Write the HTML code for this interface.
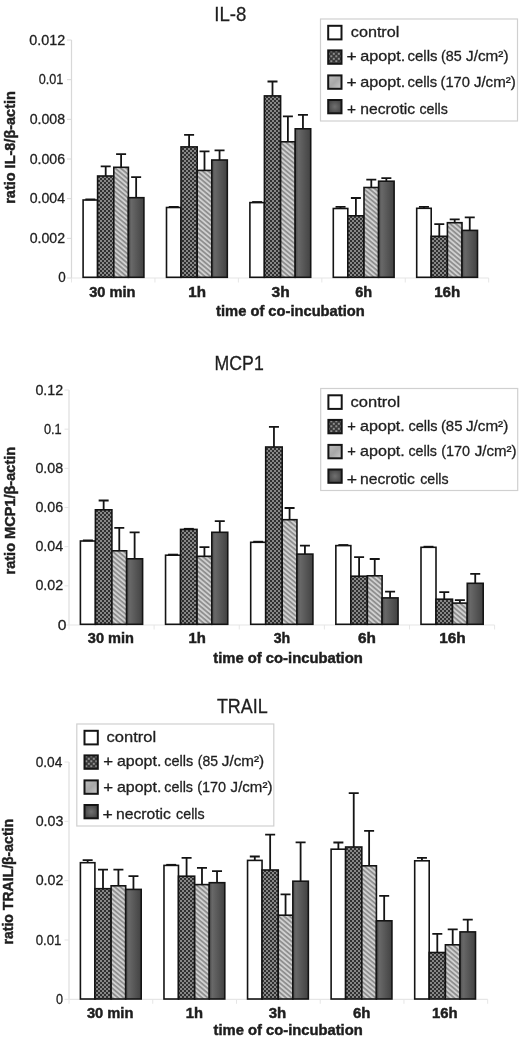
<!DOCTYPE html><html><head><meta charset="utf-8"><style>
html,body{margin:0;padding:0;background:#fff;width:520px;height:1038px;overflow:hidden;}
svg{display:block;position:absolute;left:0;top:0;filter:grayscale(1);}
text{font-family:"Liberation Sans",sans-serif;fill:#1e1e1e;stroke:#1e1e1e;stroke-width:0.3px;paint-order:stroke;}
text[font-weight=bold]{stroke-width:0.45px;}
</style></head><body>
<svg width="520" height="1038" viewBox="0 0 520 1038">
<defs>
<pattern id="chk" patternUnits="userSpaceOnUse" width="4" height="4">
<rect width="4" height="4" fill="#303030"/>
<rect x="0.15" y="0.15" width="1.7" height="1.7" fill="#a8a8a8"/>
<rect x="2.15" y="2.15" width="1.7" height="1.7" fill="#a8a8a8"/>
</pattern>
<pattern id="stp" patternUnits="userSpaceOnUse" width="3.6" height="3.6" patternTransform="rotate(40)">
<rect width="3.6" height="3.6" fill="#d0d0d0"/>
<rect width="3.6" height="1.7" fill="#8c8c8c"/>
</pattern>
<linearGradient id="drk" x1="0" y1="0" x2="1" y2="0">
<stop offset="0" stop-color="#4e4e4e"/><stop offset="0.2" stop-color="#686868"/><stop offset="1" stop-color="#424242"/>
</linearGradient>
<pattern id="lchk" patternUnits="userSpaceOnUse" width="5" height="5">
<rect width="5" height="5" fill="#383838"/>
<rect x="0.3" y="0.3" width="2" height="2" fill="#8e8e8e"/>
<rect x="2.8" y="2.8" width="2" height="2" fill="#8e8e8e"/>
</pattern>
<linearGradient id="lstp" x1="0" y1="0" x2="1" y2="1">
<stop offset="0" stop-color="#bdbdbd"/><stop offset="0.5" stop-color="#a8a8a8"/><stop offset="1" stop-color="#c8c8c8"/>
</linearGradient>
<radialGradient id="ldrk"><stop offset="0" stop-color="#707070"/><stop offset="1" stop-color="#4a4a4a"/></radialGradient>
</defs>
<line x1="71.5" y1="40" x2="71.5" y2="278" stroke="#d8d8d8" stroke-width="1.2"/>
<line x1="67" y1="278" x2="71.5" y2="278" stroke="#d8d8d8" stroke-width="1"/>
<line x1="67" y1="238.33" x2="71.5" y2="238.33" stroke="#d8d8d8" stroke-width="1"/>
<line x1="67" y1="198.67" x2="71.5" y2="198.67" stroke="#d8d8d8" stroke-width="1"/>
<line x1="67" y1="159" x2="71.5" y2="159" stroke="#d8d8d8" stroke-width="1"/>
<line x1="67" y1="119.33" x2="71.5" y2="119.33" stroke="#d8d8d8" stroke-width="1"/>
<line x1="67" y1="79.67" x2="71.5" y2="79.67" stroke="#d8d8d8" stroke-width="1"/>
<line x1="67" y1="40" x2="71.5" y2="40" stroke="#d8d8d8" stroke-width="1"/>
<line x1="71.5" y1="278" x2="488.7" y2="278" stroke="#e6e6e6" stroke-width="1.2"/>
<line x1="71.5" y1="278" x2="71.5" y2="282.5" stroke="#e6e6e6" stroke-width="1"/>
<line x1="154.94" y1="278" x2="154.94" y2="282.5" stroke="#e6e6e6" stroke-width="1"/>
<line x1="238.38" y1="278" x2="238.38" y2="282.5" stroke="#e6e6e6" stroke-width="1"/>
<line x1="321.82" y1="278" x2="321.82" y2="282.5" stroke="#e6e6e6" stroke-width="1"/>
<line x1="405.26" y1="278" x2="405.26" y2="282.5" stroke="#e6e6e6" stroke-width="1"/>
<line x1="488.7" y1="278" x2="488.7" y2="282.5" stroke="#e6e6e6" stroke-width="1"/>
<rect x="83.1" y="200" width="14.5" height="77.3" fill="#ffffff" stroke="#141414" stroke-width="1.6"/>
<rect x="97.6" y="176" width="16.2" height="101.3" fill="url(#chk)" stroke="#141414" stroke-width="1.6"/>
<rect x="113.8" y="167.3" width="14.6" height="110" fill="url(#stp)" stroke="#141414" stroke-width="1.6"/>
<rect x="128.4" y="197.7" width="15.5" height="79.6" fill="url(#drk)" stroke="#141414" stroke-width="1.6"/>
<line x1="85.35" y1="199.4" x2="95.35" y2="199.4" stroke="#141414" stroke-width="1.8"/>
<path d="M105.7 176V166.3M100.7 166.3H110.7" stroke="#141414" stroke-width="1.8" fill="none"/>
<path d="M121.1 167.3V154.2M116.1 154.2H126.1" stroke="#141414" stroke-width="1.8" fill="none"/>
<path d="M136.15 197.7V177.2M131.15 177.2H141.15" stroke="#141414" stroke-width="1.8" fill="none"/>
<rect x="166.5" y="207.5" width="14.5" height="69.8" fill="#ffffff" stroke="#141414" stroke-width="1.6"/>
<rect x="181" y="146.9" width="16.2" height="130.4" fill="url(#chk)" stroke="#141414" stroke-width="1.6"/>
<rect x="197.2" y="170.4" width="14.6" height="106.9" fill="url(#stp)" stroke="#141414" stroke-width="1.6"/>
<rect x="211.8" y="160" width="15.5" height="117.3" fill="url(#drk)" stroke="#141414" stroke-width="1.6"/>
<line x1="168.75" y1="206.9" x2="178.75" y2="206.9" stroke="#141414" stroke-width="1.8"/>
<path d="M189.1 146.9V134.9M184.1 134.9H194.1" stroke="#141414" stroke-width="1.8" fill="none"/>
<path d="M204.5 170.4V151.3M199.5 151.3H209.5" stroke="#141414" stroke-width="1.8" fill="none"/>
<path d="M219.55 160V150.3M214.55 150.3H224.55" stroke="#141414" stroke-width="1.8" fill="none"/>
<rect x="249.9" y="202.6" width="14.5" height="74.7" fill="#ffffff" stroke="#141414" stroke-width="1.6"/>
<rect x="264.4" y="95.9" width="16.2" height="181.4" fill="url(#chk)" stroke="#141414" stroke-width="1.6"/>
<rect x="280.6" y="141.8" width="14.6" height="135.5" fill="url(#stp)" stroke="#141414" stroke-width="1.6"/>
<rect x="295.2" y="128.8" width="15.5" height="148.5" fill="url(#drk)" stroke="#141414" stroke-width="1.6"/>
<line x1="252.15" y1="202" x2="262.15" y2="202" stroke="#141414" stroke-width="1.8"/>
<path d="M272.5 95.9V81.5M267.5 81.5H277.5" stroke="#141414" stroke-width="1.8" fill="none"/>
<path d="M287.9 141.8V116.3M282.9 116.3H292.9" stroke="#141414" stroke-width="1.8" fill="none"/>
<path d="M302.95 128.8V114.9M297.95 114.9H307.95" stroke="#141414" stroke-width="1.8" fill="none"/>
<rect x="333.3" y="208.5" width="14.5" height="68.8" fill="#ffffff" stroke="#141414" stroke-width="1.6"/>
<rect x="347.8" y="215.8" width="16.2" height="61.5" fill="url(#chk)" stroke="#141414" stroke-width="1.6"/>
<rect x="364" y="187.5" width="14.6" height="89.8" fill="url(#stp)" stroke="#141414" stroke-width="1.6"/>
<rect x="378.6" y="181.2" width="15.5" height="96.1" fill="url(#drk)" stroke="#141414" stroke-width="1.6"/>
<path d="M340.55 208.5V206.9M335.55 206.9H345.55" stroke="#141414" stroke-width="1.8" fill="none"/>
<path d="M355.9 215.8V198M350.9 198H360.9" stroke="#141414" stroke-width="1.8" fill="none"/>
<path d="M371.3 187.5V179.6M366.3 179.6H376.3" stroke="#141414" stroke-width="1.8" fill="none"/>
<path d="M386.35 181.2V178.2M381.35 178.2H391.35" stroke="#141414" stroke-width="1.8" fill="none"/>
<rect x="416.7" y="208.3" width="14.5" height="69" fill="#ffffff" stroke="#141414" stroke-width="1.6"/>
<rect x="431.2" y="236.3" width="16.2" height="41" fill="url(#chk)" stroke="#141414" stroke-width="1.6"/>
<rect x="447.4" y="222.7" width="14.6" height="54.6" fill="url(#stp)" stroke="#141414" stroke-width="1.6"/>
<rect x="462" y="230.4" width="15.5" height="46.9" fill="url(#drk)" stroke="#141414" stroke-width="1.6"/>
<path d="M423.95 208.3V206.9M418.95 206.9H428.95" stroke="#141414" stroke-width="1.8" fill="none"/>
<path d="M439.3 236.3V224.2M434.3 224.2H444.3" stroke="#141414" stroke-width="1.8" fill="none"/>
<path d="M454.7 222.7V219.4M449.7 219.4H459.7" stroke="#141414" stroke-width="1.8" fill="none"/>
<path d="M469.75 230.4V217.4M464.75 217.4H474.75" stroke="#141414" stroke-width="1.8" fill="none"/>
<rect x="320.5" y="19" width="197" height="102" fill="#fff" stroke="#d0d0d0" stroke-width="1.2"/>
<rect x="328.2" y="25.8" width="13.3" height="13.6" fill="#ffffff" stroke="#141414" stroke-width="2"/>
<rect x="328.2" y="50.4" width="13.3" height="13.4" fill="url(#lchk)" stroke="#141414" stroke-width="2"/>
<rect x="328.2" y="75.4" width="13.3" height="13.4" fill="url(#lstp)" stroke="#141414" stroke-width="2"/>
<rect x="328.2" y="100" width="13.3" height="13.3" fill="url(#ldrk)" stroke="#141414" stroke-width="2"/>
<line x1="69" y1="390" x2="69" y2="625" stroke="#e4e4e4" stroke-width="1.5"/>
<line x1="64.5" y1="625" x2="69" y2="625" stroke="#e4e4e4" stroke-width="1"/>
<line x1="64.5" y1="585.83" x2="69" y2="585.83" stroke="#e4e4e4" stroke-width="1"/>
<line x1="64.5" y1="546.67" x2="69" y2="546.67" stroke="#e4e4e4" stroke-width="1"/>
<line x1="64.5" y1="507.5" x2="69" y2="507.5" stroke="#e4e4e4" stroke-width="1"/>
<line x1="64.5" y1="468.33" x2="69" y2="468.33" stroke="#e4e4e4" stroke-width="1"/>
<line x1="64.5" y1="429.17" x2="69" y2="429.17" stroke="#e4e4e4" stroke-width="1"/>
<line x1="64.5" y1="390" x2="69" y2="390" stroke="#e4e4e4" stroke-width="1"/>
<line x1="69" y1="625" x2="494.6" y2="625" stroke="#e6e6e6" stroke-width="1.2"/>
<line x1="69" y1="625" x2="69" y2="629.5" stroke="#e6e6e6" stroke-width="1"/>
<line x1="154.12" y1="625" x2="154.12" y2="629.5" stroke="#e6e6e6" stroke-width="1"/>
<line x1="239.24" y1="625" x2="239.24" y2="629.5" stroke="#e6e6e6" stroke-width="1"/>
<line x1="324.36" y1="625" x2="324.36" y2="629.5" stroke="#e6e6e6" stroke-width="1"/>
<line x1="409.48" y1="625" x2="409.48" y2="629.5" stroke="#e6e6e6" stroke-width="1"/>
<line x1="494.6" y1="625" x2="494.6" y2="629.5" stroke="#e6e6e6" stroke-width="1"/>
<rect x="80.4" y="541" width="15" height="83.3" fill="#ffffff" stroke="#141414" stroke-width="1.6"/>
<rect x="95.4" y="509.8" width="16.5" height="114.5" fill="url(#chk)" stroke="#141414" stroke-width="1.6"/>
<rect x="111.9" y="550.8" width="14.75" height="73.5" fill="url(#stp)" stroke="#141414" stroke-width="1.6"/>
<rect x="126.65" y="558.8" width="15.95" height="65.5" fill="url(#drk)" stroke="#141414" stroke-width="1.6"/>
<line x1="82.9" y1="540.4" x2="92.9" y2="540.4" stroke="#141414" stroke-width="1.8"/>
<path d="M103.65 509.8V500.5M98.65 500.5H108.65" stroke="#141414" stroke-width="1.8" fill="none"/>
<path d="M119.28 550.8V527.8M114.28 527.8H124.28" stroke="#141414" stroke-width="1.8" fill="none"/>
<path d="M134.62 558.8V532.4M129.62 532.4H139.62" stroke="#141414" stroke-width="1.8" fill="none"/>
<rect x="165.55" y="555.2" width="15" height="69.1" fill="#ffffff" stroke="#141414" stroke-width="1.6"/>
<rect x="180.55" y="529.4" width="16.5" height="94.9" fill="url(#chk)" stroke="#141414" stroke-width="1.6"/>
<rect x="197.05" y="556.3" width="14.75" height="68" fill="url(#stp)" stroke="#141414" stroke-width="1.6"/>
<rect x="211.8" y="532.3" width="15.95" height="92" fill="url(#drk)" stroke="#141414" stroke-width="1.6"/>
<line x1="168.05" y1="554.6" x2="178.05" y2="554.6" stroke="#141414" stroke-width="1.8"/>
<line x1="183.8" y1="528.8" x2="193.8" y2="528.8" stroke="#141414" stroke-width="1.8"/>
<path d="M204.43 556.3V547.1M199.43 547.1H209.43" stroke="#141414" stroke-width="1.8" fill="none"/>
<path d="M219.78 532.3V521.1M214.78 521.1H224.78" stroke="#141414" stroke-width="1.8" fill="none"/>
<rect x="250.7" y="542.3" width="15" height="82" fill="#ffffff" stroke="#141414" stroke-width="1.6"/>
<rect x="265.7" y="447" width="16.5" height="177.3" fill="url(#chk)" stroke="#141414" stroke-width="1.6"/>
<rect x="282.2" y="519.7" width="14.75" height="104.6" fill="url(#stp)" stroke="#141414" stroke-width="1.6"/>
<rect x="296.95" y="554.1" width="15.95" height="70.2" fill="url(#drk)" stroke="#141414" stroke-width="1.6"/>
<line x1="253.2" y1="541.7" x2="263.2" y2="541.7" stroke="#141414" stroke-width="1.8"/>
<path d="M273.95 447V426.9M268.95 426.9H278.95" stroke="#141414" stroke-width="1.8" fill="none"/>
<path d="M289.58 519.7V508M284.58 508H294.58" stroke="#141414" stroke-width="1.8" fill="none"/>
<path d="M304.93 554.1V545.7M299.93 545.7H309.93" stroke="#141414" stroke-width="1.8" fill="none"/>
<rect x="335.85" y="545.6" width="15" height="78.7" fill="#ffffff" stroke="#141414" stroke-width="1.6"/>
<rect x="350.85" y="576.2" width="16.5" height="48.1" fill="url(#chk)" stroke="#141414" stroke-width="1.6"/>
<rect x="367.35" y="575.8" width="14.75" height="48.5" fill="url(#stp)" stroke="#141414" stroke-width="1.6"/>
<rect x="382.1" y="597.9" width="15.95" height="26.4" fill="url(#drk)" stroke="#141414" stroke-width="1.6"/>
<line x1="338.35" y1="545" x2="348.35" y2="545" stroke="#141414" stroke-width="1.8"/>
<path d="M359.1 576.2V557.1M354.1 557.1H364.1" stroke="#141414" stroke-width="1.8" fill="none"/>
<path d="M374.73 575.8V559M369.73 559H379.73" stroke="#141414" stroke-width="1.8" fill="none"/>
<path d="M390.08 597.9V591.7M385.08 591.7H395.08" stroke="#141414" stroke-width="1.8" fill="none"/>
<rect x="421" y="547.3" width="15" height="77" fill="#ffffff" stroke="#141414" stroke-width="1.6"/>
<rect x="436" y="599.2" width="16.5" height="25.1" fill="url(#chk)" stroke="#141414" stroke-width="1.6"/>
<rect x="452.5" y="603.1" width="14.75" height="21.2" fill="url(#stp)" stroke="#141414" stroke-width="1.6"/>
<rect x="467.25" y="583.3" width="15.95" height="41" fill="url(#drk)" stroke="#141414" stroke-width="1.6"/>
<line x1="423.5" y1="546.7" x2="433.5" y2="546.7" stroke="#141414" stroke-width="1.8"/>
<path d="M444.25 599.2V592.1M439.25 592.1H449.25" stroke="#141414" stroke-width="1.8" fill="none"/>
<path d="M459.88 603.1V600.1M454.88 600.1H464.88" stroke="#141414" stroke-width="1.8" fill="none"/>
<path d="M475.23 583.3V573.8M470.23 573.8H480.23" stroke="#141414" stroke-width="1.8" fill="none"/>
<rect x="320.7" y="388.5" width="197" height="102" fill="#fff" stroke="#d0d0d0" stroke-width="1.2"/>
<rect x="328.4" y="395.3" width="13.3" height="13.6" fill="#ffffff" stroke="#141414" stroke-width="2"/>
<rect x="328.4" y="419.9" width="13.3" height="13.4" fill="url(#lchk)" stroke="#141414" stroke-width="2"/>
<rect x="328.4" y="444.9" width="13.3" height="13.4" fill="url(#lstp)" stroke="#141414" stroke-width="2"/>
<rect x="328.4" y="469.5" width="13.3" height="13.3" fill="url(#ldrk)" stroke="#141414" stroke-width="2"/>
<line x1="69" y1="762" x2="69" y2="999.3" stroke="#e4e4e4" stroke-width="1.5"/>
<line x1="64.5" y1="999.3" x2="69" y2="999.3" stroke="#e4e4e4" stroke-width="1"/>
<line x1="64.5" y1="939.97" x2="69" y2="939.97" stroke="#e4e4e4" stroke-width="1"/>
<line x1="64.5" y1="880.65" x2="69" y2="880.65" stroke="#e4e4e4" stroke-width="1"/>
<line x1="64.5" y1="821.33" x2="69" y2="821.33" stroke="#e4e4e4" stroke-width="1"/>
<line x1="64.5" y1="762" x2="69" y2="762" stroke="#e4e4e4" stroke-width="1"/>
<line x1="69" y1="999.3" x2="487.7" y2="999.3" stroke="#e6e6e6" stroke-width="1.2"/>
<line x1="69" y1="999.3" x2="69" y2="1003.8" stroke="#e6e6e6" stroke-width="1"/>
<line x1="152.74" y1="999.3" x2="152.74" y2="1003.8" stroke="#e6e6e6" stroke-width="1"/>
<line x1="236.48" y1="999.3" x2="236.48" y2="1003.8" stroke="#e6e6e6" stroke-width="1"/>
<line x1="320.22" y1="999.3" x2="320.22" y2="1003.8" stroke="#e6e6e6" stroke-width="1"/>
<line x1="403.96" y1="999.3" x2="403.96" y2="1003.8" stroke="#e6e6e6" stroke-width="1"/>
<line x1="487.7" y1="999.3" x2="487.7" y2="1003.8" stroke="#e6e6e6" stroke-width="1"/>
<rect x="80.4" y="862.7" width="14.5" height="136.3" fill="#ffffff" stroke="#141414" stroke-width="1.6"/>
<rect x="94.9" y="888.7" width="16.2" height="110.3" fill="url(#chk)" stroke="#141414" stroke-width="1.6"/>
<rect x="111.1" y="885.8" width="14.6" height="113.2" fill="url(#stp)" stroke="#141414" stroke-width="1.6"/>
<rect x="125.7" y="889.4" width="15.5" height="109.6" fill="url(#drk)" stroke="#141414" stroke-width="1.6"/>
<path d="M87.65 862.7V860.1M82.65 860.1H92.65" stroke="#141414" stroke-width="1.8" fill="none"/>
<path d="M103 888.7V869.7M98 869.7H108" stroke="#141414" stroke-width="1.8" fill="none"/>
<path d="M118.4 885.8V869.7M113.4 869.7H123.4" stroke="#141414" stroke-width="1.8" fill="none"/>
<path d="M133.45 889.4V876.1M128.45 876.1H138.45" stroke="#141414" stroke-width="1.8" fill="none"/>
<rect x="163.98" y="865.4" width="14.5" height="133.6" fill="#ffffff" stroke="#141414" stroke-width="1.6"/>
<rect x="178.48" y="876.2" width="16.2" height="122.8" fill="url(#chk)" stroke="#141414" stroke-width="1.6"/>
<rect x="194.68" y="884.6" width="14.6" height="114.4" fill="url(#stp)" stroke="#141414" stroke-width="1.6"/>
<rect x="209.28" y="882.7" width="15.5" height="116.3" fill="url(#drk)" stroke="#141414" stroke-width="1.6"/>
<line x1="166.23" y1="864.8" x2="176.23" y2="864.8" stroke="#141414" stroke-width="1.8"/>
<path d="M186.58 876.2V857.8M181.58 857.8H191.58" stroke="#141414" stroke-width="1.8" fill="none"/>
<path d="M201.98 884.6V867.8M196.98 867.8H206.98" stroke="#141414" stroke-width="1.8" fill="none"/>
<path d="M217.03 882.7V871.1M212.03 871.1H222.03" stroke="#141414" stroke-width="1.8" fill="none"/>
<rect x="247.55" y="860.4" width="14.5" height="138.6" fill="#ffffff" stroke="#141414" stroke-width="1.6"/>
<rect x="262.05" y="870" width="16.2" height="129" fill="url(#chk)" stroke="#141414" stroke-width="1.6"/>
<rect x="278.25" y="915.2" width="14.6" height="83.8" fill="url(#stp)" stroke="#141414" stroke-width="1.6"/>
<rect x="292.85" y="881.2" width="15.5" height="117.8" fill="url(#drk)" stroke="#141414" stroke-width="1.6"/>
<path d="M254.8 860.4V856.5M249.8 856.5H259.8" stroke="#141414" stroke-width="1.8" fill="none"/>
<path d="M270.15 870V834.7M265.15 834.7H275.15" stroke="#141414" stroke-width="1.8" fill="none"/>
<path d="M285.55 915.2V894.4M280.55 894.4H290.55" stroke="#141414" stroke-width="1.8" fill="none"/>
<path d="M300.6 881.2V842.4M295.6 842.4H305.6" stroke="#141414" stroke-width="1.8" fill="none"/>
<rect x="331.12" y="849.2" width="14.5" height="149.8" fill="#ffffff" stroke="#141414" stroke-width="1.6"/>
<rect x="345.62" y="847" width="16.2" height="152" fill="url(#chk)" stroke="#141414" stroke-width="1.6"/>
<rect x="361.82" y="865.8" width="14.6" height="133.2" fill="url(#stp)" stroke="#141414" stroke-width="1.6"/>
<rect x="376.43" y="920.8" width="15.5" height="78.2" fill="url(#drk)" stroke="#141414" stroke-width="1.6"/>
<path d="M338.38 849.2V842.5M333.38 842.5H343.38" stroke="#141414" stroke-width="1.8" fill="none"/>
<path d="M353.73 847V793.1M348.73 793.1H358.73" stroke="#141414" stroke-width="1.8" fill="none"/>
<path d="M369.12 865.8V830.8M364.12 830.8H374.12" stroke="#141414" stroke-width="1.8" fill="none"/>
<path d="M384.18 920.8V895.8M379.18 895.8H389.18" stroke="#141414" stroke-width="1.8" fill="none"/>
<rect x="414.7" y="860.8" width="14.5" height="138.2" fill="#ffffff" stroke="#141414" stroke-width="1.6"/>
<rect x="429.2" y="952.5" width="16.2" height="46.5" fill="url(#chk)" stroke="#141414" stroke-width="1.6"/>
<rect x="445.4" y="944.8" width="14.6" height="54.2" fill="url(#stp)" stroke="#141414" stroke-width="1.6"/>
<rect x="460" y="931.9" width="15.5" height="67.1" fill="url(#drk)" stroke="#141414" stroke-width="1.6"/>
<path d="M421.95 860.8V857.8M416.95 857.8H426.95" stroke="#141414" stroke-width="1.8" fill="none"/>
<path d="M437.3 952.5V933.8M432.3 933.8H442.3" stroke="#141414" stroke-width="1.8" fill="none"/>
<path d="M452.7 944.8V929.4M447.7 929.4H457.7" stroke="#141414" stroke-width="1.8" fill="none"/>
<path d="M467.75 931.9V919.7M462.75 919.7H472.75" stroke="#141414" stroke-width="1.8" fill="none"/>
<rect x="76.8" y="724" width="197" height="102" fill="#fff" stroke="#d0d0d0" stroke-width="1.2"/>
<rect x="84.5" y="730.8" width="13.3" height="13.6" fill="#ffffff" stroke="#141414" stroke-width="2"/>
<rect x="84.5" y="755.4" width="13.3" height="13.4" fill="url(#lchk)" stroke="#141414" stroke-width="2"/>
<rect x="84.5" y="780.4" width="13.3" height="13.4" fill="url(#lstp)" stroke="#141414" stroke-width="2"/>
<rect x="84.5" y="805" width="13.3" height="13.3" fill="url(#ldrk)" stroke="#141414" stroke-width="2"/>
<text id="t1" x="214.3" y="20.8" font-size="20.8" textLength="32.07" lengthAdjust="spacingAndGlyphs">IL-8</text>
<text id="t2" x="214.6" y="369.6" font-size="20.4" textLength="49.12" lengthAdjust="spacingAndGlyphs">MCP1</text>
<text id="t3" x="216.9" y="712.5" font-size="20.8" textLength="50.75" lengthAdjust="spacingAndGlyphs">TRAIL</text>
<text id="x1" x="216.1" y="316.4" font-size="14.3" font-weight="bold" textLength="148.63" lengthAdjust="spacingAndGlyphs">time of co-incubation</text>
<text id="x2" x="213.3" y="663" font-size="14.3" font-weight="bold" textLength="149.46" lengthAdjust="spacingAndGlyphs">time of co-incubation</text>
<text id="x3" x="213.5" y="1035.4" font-size="14.3" font-weight="bold" textLength="149.26" lengthAdjust="spacingAndGlyphs">time of co-incubation</text>
<text id="y1" x="15.1" y="203.8" font-size="14.2" font-weight="bold" textLength="112.68" lengthAdjust="spacingAndGlyphs" transform="rotate(-90 15.1 203.8)">ratio IL-8/β-actin</text>
<text id="y2" x="15.3" y="574.5" font-size="14.2" font-weight="bold" textLength="127.66" lengthAdjust="spacingAndGlyphs" transform="rotate(-90 15.3 574.5)">ratio MCP1/β-actin</text>
<text id="y3" x="13.3" y="944.5" font-size="14.2" font-weight="bold" textLength="125.54" lengthAdjust="spacingAndGlyphs" transform="rotate(-90 13.3 944.5)">ratio TRAIL/β-actin</text>
<text id="c1_0" x="89.2" y="296.8" font-size="14" font-weight="bold" textLength="46.25" lengthAdjust="spacingAndGlyphs">30 min</text>
<text id="c1_1" x="188.3" y="296.8" font-size="14" font-weight="bold" textLength="17.69" lengthAdjust="spacingAndGlyphs">1h</text>
<text id="c1_2" x="271.5" y="296.8" font-size="14" font-weight="bold" textLength="18.13" lengthAdjust="spacingAndGlyphs">3h</text>
<text id="c1_3" x="355.2" y="296.8" font-size="14" font-weight="bold" textLength="16.88" lengthAdjust="spacingAndGlyphs">6h</text>
<text id="c1_4" x="434.2" y="296.8" font-size="14" font-weight="bold" textLength="26" lengthAdjust="spacingAndGlyphs">16h</text>
<text id="c2_0" x="87.8" y="643.4" font-size="14" font-weight="bold" textLength="46.13" lengthAdjust="spacingAndGlyphs">30 min</text>
<text id="c2_1" x="188.4" y="643.4" font-size="14" font-weight="bold" textLength="17.37" lengthAdjust="spacingAndGlyphs">1h</text>
<text id="c2_2" x="273.7" y="643.4" font-size="14" font-weight="bold" textLength="16.46" lengthAdjust="spacingAndGlyphs">3h</text>
<text id="c2_3" x="358.1" y="643.4" font-size="14" font-weight="bold" textLength="17.9" lengthAdjust="spacingAndGlyphs">6h</text>
<text id="c2_4" x="439.2" y="643.4" font-size="14" font-weight="bold" textLength="26.49" lengthAdjust="spacingAndGlyphs">16h</text>
<text id="c3_0" x="86.9" y="1017.8" font-size="14" font-weight="bold" textLength="46.51" lengthAdjust="spacingAndGlyphs">30 min</text>
<text id="c3_1" x="185.8" y="1017.8" font-size="14" font-weight="bold" textLength="17.17" lengthAdjust="spacingAndGlyphs">1h</text>
<text id="c3_2" x="268.8" y="1017.8" font-size="14" font-weight="bold" textLength="17.48" lengthAdjust="spacingAndGlyphs">3h</text>
<text id="c3_3" x="352.9" y="1017.8" font-size="14" font-weight="bold" textLength="17.48" lengthAdjust="spacingAndGlyphs">6h</text>
<text id="c3_4" x="432.1" y="1017.8" font-size="14" font-weight="bold" textLength="25.59" lengthAdjust="spacingAndGlyphs">16h</text>
<text id="k1_0" x="58.2" y="282.4" font-size="15" textLength="7.47" lengthAdjust="spacingAndGlyphs">0</text>
<text id="k1_1" x="29.7" y="243.03" font-size="14.6" textLength="35.43" lengthAdjust="spacingAndGlyphs">0.002</text>
<text id="k1_2" x="29.7" y="203.37" font-size="14.6" textLength="35.34" lengthAdjust="spacingAndGlyphs">0.004</text>
<text id="k1_3" x="29.7" y="163.7" font-size="14.6" textLength="35.43" lengthAdjust="spacingAndGlyphs">0.006</text>
<text id="k1_4" x="29.7" y="124.03" font-size="14.6" textLength="35.43" lengthAdjust="spacingAndGlyphs">0.008</text>
<text id="k1_5" x="38.7" y="84.37" font-size="14.6" textLength="24.61" lengthAdjust="spacingAndGlyphs">0.01</text>
<text id="k1_6" x="29.3" y="44.7" font-size="14.6" textLength="35.88" lengthAdjust="spacingAndGlyphs">0.012</text>
<text id="k2_0" x="57.7" y="629.5" font-size="15" textLength="8.71" lengthAdjust="spacingAndGlyphs">0</text>
<text id="k2_1" x="35.4" y="590.08" font-size="14.6" textLength="27.77" lengthAdjust="spacingAndGlyphs">0.02</text>
<text id="k2_2" x="35.4" y="550.97" font-size="14.6" textLength="27.69" lengthAdjust="spacingAndGlyphs">0.04</text>
<text id="k2_3" x="35.4" y="511.85" font-size="14.6" textLength="27.77" lengthAdjust="spacingAndGlyphs">0.06</text>
<text id="k2_4" x="35.4" y="472.73" font-size="14.6" textLength="27.77" lengthAdjust="spacingAndGlyphs">0.08</text>
<text id="k2_5" x="43.9" y="433.62" font-size="14.6" textLength="17.75" lengthAdjust="spacingAndGlyphs">0.1</text>
<text id="k2_6" x="35.4" y="394.5" font-size="14.6" textLength="27.74" lengthAdjust="spacingAndGlyphs">0.12</text>
<text id="k3_0" x="56" y="1004" font-size="15" textLength="7.02" lengthAdjust="spacingAndGlyphs">0</text>
<text id="k3_1" x="35.7" y="944.62" font-size="14.6" textLength="25.7" lengthAdjust="spacingAndGlyphs">0.01</text>
<text id="k3_2" x="35.7" y="885.35" font-size="14.6" textLength="27.69" lengthAdjust="spacingAndGlyphs">0.02</text>
<text id="k3_3" x="35.7" y="826.07" font-size="14.6" textLength="27.69" lengthAdjust="spacingAndGlyphs">0.03</text>
<text id="k3_4" x="35.7" y="766.8" font-size="14.6" textLength="26.66" lengthAdjust="spacingAndGlyphs">0.04</text>
<text id="l1_0_0" x="350.8" y="37.4" font-size="15" textLength="48.56" lengthAdjust="spacingAndGlyphs">control</text>
<text id="l1_1_0" x="346.5" y="61.2" font-size="15" textLength="10.16" lengthAdjust="spacingAndGlyphs">+</text>
<text id="l1_1_1" x="360.3" y="61.2" font-size="15" textLength="45.06" lengthAdjust="spacingAndGlyphs">apopt.</text>
<text id="l1_1_2" x="407.6" y="61.2" font-size="15" textLength="29.85" lengthAdjust="spacingAndGlyphs">cells</text>
<text id="l1_1_3" x="441.1" y="61.2" font-size="15" textLength="20.69" lengthAdjust="spacingAndGlyphs">(85</text>
<text id="l1_1_4" x="466.1" y="61.2" font-size="15" textLength="42.37" lengthAdjust="spacingAndGlyphs">J/cm²)</text>
<text id="l1_2_0" x="346.5" y="86.5" font-size="15" textLength="10.16" lengthAdjust="spacingAndGlyphs">+</text>
<text id="l1_2_1" x="360.3" y="86.5" font-size="15" textLength="45.06" lengthAdjust="spacingAndGlyphs">apopt.</text>
<text id="l1_2_2" x="407.6" y="86.5" font-size="15" textLength="29.58" lengthAdjust="spacingAndGlyphs">cells</text>
<text id="l1_2_3" x="440.5" y="86.5" font-size="15" textLength="29.46" lengthAdjust="spacingAndGlyphs">(170</text>
<text id="l1_2_4" x="473.9" y="86.5" font-size="15" textLength="41.86" lengthAdjust="spacingAndGlyphs">J/cm²)</text>
<text id="l1_3_0" x="346.9" y="114.4" font-size="15" textLength="9.01" lengthAdjust="spacingAndGlyphs">+</text>
<text id="l1_3_1" x="360.3" y="114.4" font-size="15" textLength="54.82" lengthAdjust="spacingAndGlyphs">necrotic</text>
<text id="l1_3_2" x="419.4" y="114.4" font-size="15" textLength="28.44" lengthAdjust="spacingAndGlyphs">cells</text>
<text id="l2_0_0" x="350.6" y="406.9" font-size="15" textLength="49.58" lengthAdjust="spacingAndGlyphs">control</text>
<text id="l2_1_0" x="347.3" y="430.7" font-size="15" textLength="8.61" lengthAdjust="spacingAndGlyphs">+</text>
<text id="l2_1_1" x="360.1" y="430.7" font-size="15" textLength="44.72" lengthAdjust="spacingAndGlyphs">apopt.</text>
<text id="l2_1_2" x="408.4" y="430.7" font-size="15" textLength="29.02" lengthAdjust="spacingAndGlyphs">cells</text>
<text id="l2_1_3" x="440.9" y="430.7" font-size="15" textLength="21.62" lengthAdjust="spacingAndGlyphs">(85</text>
<text id="l2_1_4" x="465.9" y="430.7" font-size="15" textLength="42.38" lengthAdjust="spacingAndGlyphs">J/cm²)</text>
<text id="l2_2_0" x="347.3" y="456" font-size="15" textLength="8.61" lengthAdjust="spacingAndGlyphs">+</text>
<text id="l2_2_1" x="360.1" y="456" font-size="15" textLength="44.72" lengthAdjust="spacingAndGlyphs">apopt.</text>
<text id="l2_2_2" x="408.4" y="456" font-size="15" textLength="28.58" lengthAdjust="spacingAndGlyphs">cells</text>
<text id="l2_2_3" x="441.3" y="456" font-size="15" textLength="28.79" lengthAdjust="spacingAndGlyphs">(170</text>
<text id="l2_2_4" x="474.7" y="456" font-size="15" textLength="41.82" lengthAdjust="spacingAndGlyphs">J/cm²)</text>
<text id="l2_3_0" x="346.7" y="483.9" font-size="15" textLength="10.3" lengthAdjust="spacingAndGlyphs">+</text>
<text id="l2_3_1" x="360.1" y="483.9" font-size="15" textLength="54.84" lengthAdjust="spacingAndGlyphs">necrotic</text>
<text id="l2_3_2" x="420.2" y="483.9" font-size="15" textLength="28.38" lengthAdjust="spacingAndGlyphs">cells</text>
<text id="l3_0_0" x="106.5" y="742.4" font-size="15" textLength="49.58" lengthAdjust="spacingAndGlyphs">control</text>
<text id="l3_1_0" x="103.2" y="766.2" font-size="15" textLength="9.84" lengthAdjust="spacingAndGlyphs">+</text>
<text id="l3_1_1" x="117" y="766.2" font-size="15" textLength="44.34" lengthAdjust="spacingAndGlyphs">apopt.</text>
<text id="l3_1_2" x="164.3" y="766.2" font-size="15" textLength="28.97" lengthAdjust="spacingAndGlyphs">cells</text>
<text id="l3_1_3" x="197.8" y="766.2" font-size="15" textLength="20.17" lengthAdjust="spacingAndGlyphs">(85</text>
<text id="l3_1_4" x="221.8" y="766.2" font-size="15" textLength="42.35" lengthAdjust="spacingAndGlyphs">J/cm²)</text>
<text id="l3_2_0" x="103.2" y="791.5" font-size="15" textLength="9.84" lengthAdjust="spacingAndGlyphs">+</text>
<text id="l3_2_1" x="117" y="791.5" font-size="15" textLength="44.34" lengthAdjust="spacingAndGlyphs">apopt.</text>
<text id="l3_2_2" x="164.3" y="791.5" font-size="15" textLength="28.72" lengthAdjust="spacingAndGlyphs">cells</text>
<text id="l3_2_3" x="197.2" y="791.5" font-size="15" textLength="28.88" lengthAdjust="spacingAndGlyphs">(170</text>
<text id="l3_2_4" x="230.6" y="791.5" font-size="15" textLength="41.84" lengthAdjust="spacingAndGlyphs">J/cm²)</text>
<text id="l3_3_0" x="102.6" y="819.4" font-size="15" textLength="10.27" lengthAdjust="spacingAndGlyphs">+</text>
<text id="l3_3_1" x="116" y="819.4" font-size="15" textLength="54.88" lengthAdjust="spacingAndGlyphs">necrotic</text>
<text id="l3_3_2" x="176.1" y="819.4" font-size="15" textLength="28.53" lengthAdjust="spacingAndGlyphs">cells</text>
</svg></body></html>
